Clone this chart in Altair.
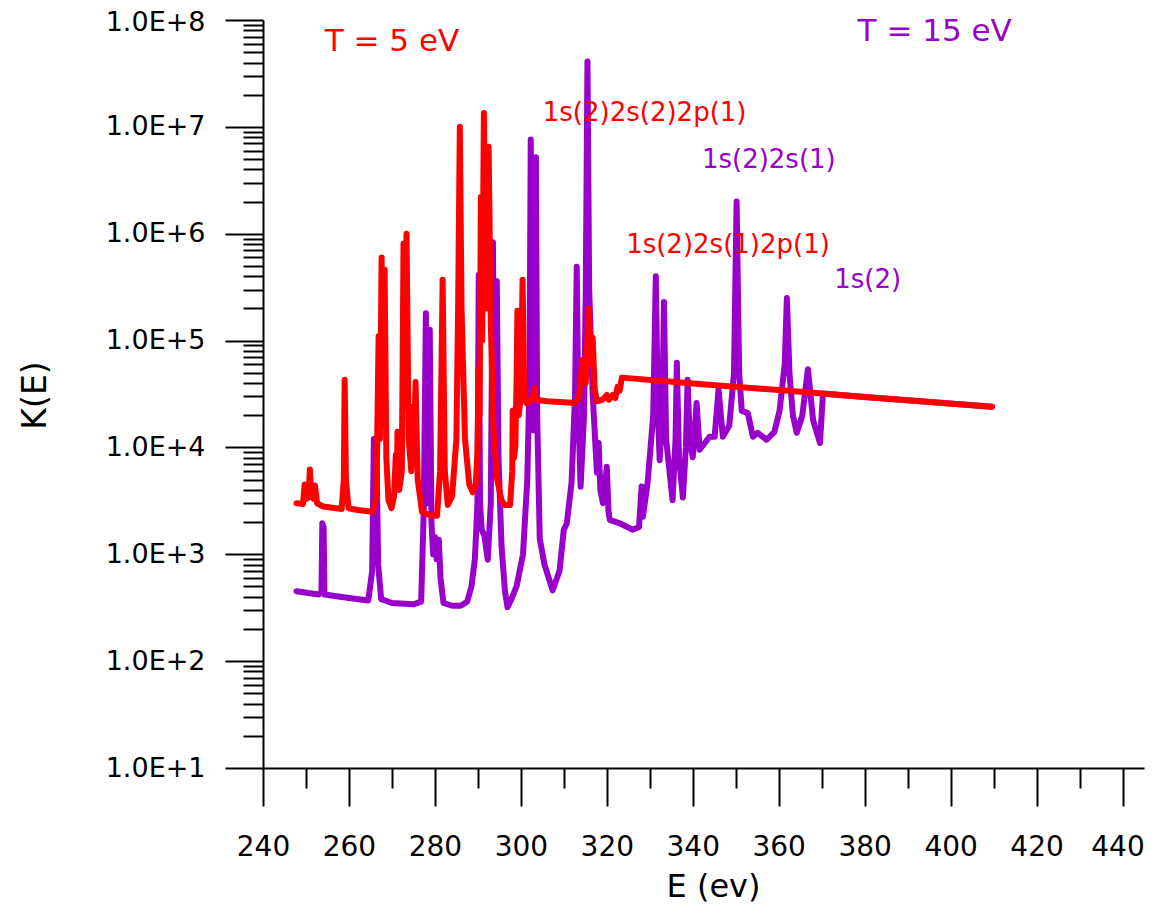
import altair as alt
import pandas as pd

RED = "#FF0000"
PURPLE = "#9900CC"
FONT = "DejaVu Sans"

# ---- T = 5 eV spectrum (red) ----
red_E = [247.8, 249.3, 249.7, 250.1, 250.6, 250.9, 251.3, 251.8, 252.1, 252.6,
         254.0, 258.3, 258.8, 259.0, 259.3, 259.9, 262.0, 265.5, 266.4, 266.9,
         267.2, 267.6, 268.0, 268.3, 268.7, 269.2, 269.9, 270.5, 270.9, 271.1,
         271.3, 271.7, 272.3, 272.7, 273.0, 273.4, 273.9, 274.5, 274.8, 275.1,
         275.5, 276.0, 277.0, 279.0, 280.5, 281.2, 281.8, 282.3, 283.0, 284.0,
         285.0, 285.4, 285.8, 286.2, 287.0, 288.0, 288.8, 289.5, 289.9, 290.2,
         290.4, 290.7, 291.0, 291.4, 291.9, 292.5, 293.0, 293.6, 294.5, 295.5,
         296.2, 297.5, 298.0, 298.1, 298.4, 298.7, 299.0, 299.2, 299.5, 300.0,
         300.4, 300.8, 301.3, 302.0, 302.9, 303.2, 303.5, 306.0, 310.0, 312.5,
         313.5, 314.4, 315.1, 315.8, 316.3, 316.7, 317.2, 317.7, 319.0, 320.0,
         320.5, 321.4, 322.0, 322.5, 323.0, 323.5, 340.0, 360.0, 380.0, 409.6]
red_K = [3000, 2950, 4500, 3300, 3400, 6200, 3500, 3300, 4400, 3000,
         2800, 2650, 5000, 43000, 5000, 2700, 2600, 2500, 3500, 110000,
         12000, 600000, 20000, 460000, 8000, 3200, 2700, 3500, 8500, 4500,
         14000, 4000, 6000, 810000, 30000, 1000000, 12000, 6000, 24000, 8000,
         41000, 5000, 2500, 2300, 2300, 6000, 370000, 6000, 2900, 3500,
         12000, 200000, 10000000, 200000, 12000, 4500, 3800, 4500, 9000, 54000,
         20000, 2200000, 100000, 13500000, 200000, 6500000, 150000, 15000, 5000, 3200,
         2900, 2900, 6000, 22000, 8000, 10000, 41000, 190000, 20000, 30000,
         370000, 30000, 26000, 27000, 31000, 36000, 28000, 27000, 26500, 26000,
         29000, 66000, 40000, 200000, 60000, 106000, 35000, 27000, 28000, 31000,
         28000, 31000, 29000, 37000, 34000, 45000, 39600, 34400, 29700, 24000]

# ---- T = 15 eV spectrum (purple) ----
purple_E = [247.8, 253.0, 253.6, 253.8, 254.1, 254.3, 260.0, 264.5, 265.4, 265.8,
            266.1, 266.4, 266.8, 267.5, 270.0, 275.0, 276.8, 277.4, 277.9, 278.3,
            278.8, 279.2, 279.6, 280.0, 280.4, 280.9, 281.3, 282.0, 284.0, 286.0,
            287.5, 288.5, 289.3, 289.9, 290.2, 290.5, 290.9, 291.5, 292.3, 293.0,
            293.5, 293.9, 294.4, 294.8, 295.5, 296.3, 296.9, 297.8, 299.0, 300.5,
            301.5, 302.0, 302.3, 302.6, 302.9, 303.5, 303.8, 304.4, 305.5, 307.4,
            309.0, 310.0, 310.7, 311.8, 312.6, 313.0, 313.4, 313.9, 314.7, 315.1,
            315.5, 315.9, 316.7, 317.7, 318.1, 318.5, 319.1, 320.0, 320.4, 320.7,
            323.0, 326.0, 327.5, 328.1, 328.4, 329.5, 330.8, 331.4, 331.9, 332.3,
            332.9, 333.3, 333.8, 335.3, 336.0, 336.3, 336.8, 337.7, 338.4, 338.8,
            339.3, 340.0, 340.9, 341.6, 342.8, 343.9, 345.1, 346.0, 347.0, 348.5,
            349.6, 350.2, 350.8, 351.4, 352.8, 354.0, 355.1, 357.2, 359.0, 360.2,
            361.4, 361.9, 362.5, 363.3, 364.2, 365.5, 366.8, 368.0, 369.6, 370.3,
            380.0, 390.0, 409.6]
purple_K = [450, 420, 440, 1950, 1800, 420, 390, 370, 700, 12000,
            2500, 9000, 800, 380, 350, 340, 360, 2500, 180000, 3000,
            126000, 2000, 1000, 1450, 900, 1370, 600, 350, 330, 330,
            360, 500, 900, 3000, 410000, 3000, 1700, 1500, 890, 3000,
            830000, 10000, 360000, 8000, 1200, 450, 320, 380, 500, 1000,
            5000, 40000, 7600000, 20000, 14500, 5200000, 20000, 1400, 800, 460,
            700, 1700, 1950, 4700, 30000, 490000, 20000, 4300, 20000, 300000,
            41000000, 300000, 32000, 5800, 11000, 4000, 3000, 6600, 2500, 2100,
            1950, 1700, 1800, 4300, 2250, 4700, 20000, 400000, 20000, 7600,
            20000, 230000, 12000, 3200, 12000, 62000, 8000, 3400, 10000, 43000,
            12000, 8100, 26000, 9500, 11000, 12600, 12600, 35000, 12600, 16000,
            50000, 2000000, 50000, 22000, 21000, 12600, 13700, 11800, 14000, 22000,
            60000, 250000, 50000, 20000, 13700, 20000, 54000, 18000, 11000, 31900,
            29700, 27600, 24000]

# ---- axis ticks ----
x_major = list(range(240, 441, 20))
x_minor = list(range(250, 431, 20))
y_major = [10 ** n for n in range(1, 9)]
y_minor = [k * 10 ** n for n in range(1, 8) for k in range(2, 10)]

# ---- annotations ----
ann_text = ["T = 5 eV", "T = 15 eV", "1s(2)2s(2)2p(1)", "1s(2)2s(1)",
            "1s(2)2s(1)2p(1)", "1s(2)"]
ann_E = [270.0, 396.3, 328.8, 357.7, 348.2, 380.7]
ann_K = [6.2e7, 7.7e7, 1.35e7, 4.9e6, 7.9e5, 3.7e5]
ann_color = [RED, PURPLE, RED, PURPLE, RED, PURPLE]
ann_size = [31, 31, 26, 26, 26, 26]

df_r = pd.DataFrame({"E": red_E, "K": red_K})
df_p = pd.DataFrame({"E": purple_E, "K": purple_K})
df_a = pd.DataFrame({"E": ann_E, "K": ann_K, "label": ann_text,
                     "color": ann_color, "size": ann_size})

xscale = alt.Scale(domain=[240, 445], nice=False, zero=False)
yscale = alt.Scale(type="log", domain=[10, 1e8], nice=False)

common = dict(grid=False, tickColor="black", tickWidth=2)

x_axis_major = alt.Axis(values=x_major, orient="bottom", tickSize=38,
                        domain=True, domainColor="black", domainWidth=2,
                        labelFont=FONT, labelFontSize=28, labelColor="black",
                        labelPadding=27, labelBaseline="top", format="d",
                        labelFlush=False, labelOverlap=False,
                        labelOffset={"condition": {"test": "datum.value === 440", "value": -5},
                                     "value": 0},
                        title="E (ev)", titleFont=FONT, titleFontSize=32,
                        titleFontWeight="normal", titleColor="black",
                        titleX=450, titleY=118, titleAlign="center",
                        titleBaseline="middle", **common)
y_axis_major = alt.Axis(values=y_major, orient="left", tickSize=38,
                        domain=True, domainColor="black", domainWidth=2,
                        labelFont=FONT, labelFontSize=27, labelColor="black",
                        labelPadding=20, labelBaseline="middle",
                        labelExpr="'1.0E+' + round(log(datum.value) / LN10)",
                        labelOffset={"condition": {"test": "datum.value >= 1e8", "value": 2},
                                     "value": 0},
                        labelFlush=False, labelOverlap=False,
                        title="K(E)", titleFont=FONT, titleFontSize=33,
                        titleFontWeight="normal", titleColor="black",
                        titleX=-228, titleY=375, titleAngle=270,
                        titleAlign="center", titleBaseline="middle", **common)
x_axis_minor = alt.Axis(values=x_minor, orient="bottom", tickSize=20,
                        domain=False, labels=False, title=None, **common)
y_axis_minor = alt.Axis(values=y_minor, orient="left", tickSize=20,
                        domain=False, labels=False, title=None, **common)

purple = alt.Chart(df_p).mark_line(
    color=PURPLE, strokeWidth=6, strokeJoin="round", strokeCap="round"
).encode(
    x=alt.X("E:Q", scale=xscale, axis=x_axis_major),
    y=alt.Y("K:Q", scale=yscale, axis=y_axis_major),
)

red = alt.Chart(df_r).mark_line(
    color=RED, strokeWidth=6, strokeJoin="round", strokeCap="round"
).encode(
    x=alt.X("E:Q", scale=xscale, axis=x_axis_minor),
    y=alt.Y("K:Q", scale=yscale, axis=y_axis_minor),
)

text = alt.Chart(df_a).mark_text(font=FONT, align="center", baseline="middle").encode(
    x=alt.X("E:Q", scale=xscale, axis=None),
    y=alt.Y("K:Q", scale=yscale, axis=None),
    text="label:N",
    color=alt.Color("color:N", scale=None),
    size=alt.Size("size:Q", scale=None),
)

chart = (
    alt.layer(purple, red, text)
    .resolve_axis(x="independent", y="independent")
    .properties(
        width=881,
        height=748,
        padding={"left": 255, "top": 12, "right": 2, "bottom": 138},
        autosize=alt.AutoSizeParams(type="none"),
        background="white",
    )
    .configure_view(strokeWidth=0)
)

chart.save("out.html", embed_options={"renderer": "svg", "actions": False})
